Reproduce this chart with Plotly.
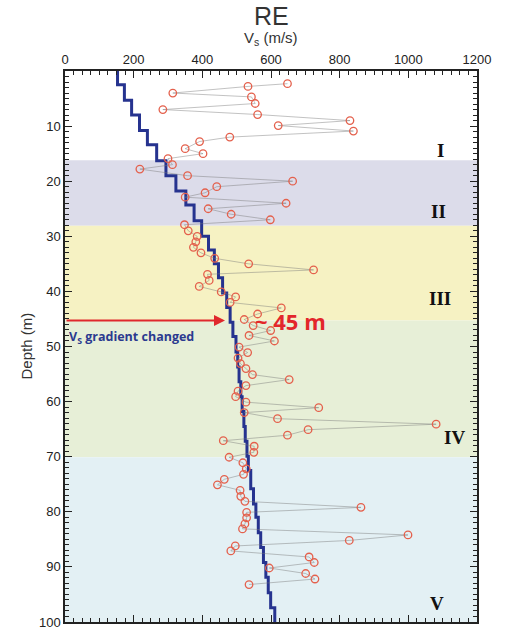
import plotly.graph_objects as go

# ---- data ----
# measured Vs points (depth m, Vs m/s), in depth order
pt_depth = [2.3, 2.8, 4.0, 4.7, 5.9, 7.0, 7.9, 9.0, 9.9, 10.9, 12.0, 12.8, 14.1, 15.0, 15.9, 17.0, 17.8,
            19.0, 20.0, 21.0, 22.1, 22.9, 24.0, 25.0, 26.0, 27.0, 27.9, 29.0, 30.0, 31.0, 32.0, 33.0,
            34.0, 35.0, 36.1, 36.9, 38.0, 39.1, 40.1, 41.0, 42.0, 43.0, 44.1, 45.1, 46.2, 47.1, 48.0,
            49.0, 50.1, 51.1, 52.1, 53.1, 54.0, 55.1, 56.0, 57.1, 58.1, 59.1, 60.1, 61.1, 62.0, 63.1,
            64.1, 65.1, 66.1, 67.1, 68.1, 69.2, 70.1, 71.1, 72.2, 73.2, 74.1, 75.1, 76.1, 77.2, 78.1,
            79.2, 80.1, 81.1, 82.2, 83.1, 84.2, 85.2, 86.2, 87.1, 88.2, 89.2, 90.2, 91.2, 92.2, 93.2]
pt_vs = [648, 533, 314, 543, 554, 285, 561, 830, 621, 840, 480, 392, 350, 402, 300, 313, 218,
         357, 663, 442, 408, 350, 644, 417, 484, 598, 348, 359, 385, 381, 374, 396,
         436, 535, 724, 415, 420, 391, 455, 497, 481, 630, 561, 522, 548, 599, 536,
         610, 507, 532, 504, 511, 527, 546, 653, 527, 504, 497, 527, 739, 522, 619,
         1081, 708, 648, 461, 551, 550, 478, 518, 528, 520, 464, 444, 510, 512, 524,
         862, 529, 529, 524, 517, 999, 828, 496, 483, 711, 726, 595, 701, 728, 536]

# layered model: bottom depth of each layer and its Vs
layer_bottom = [2.5, 5.3, 8.0, 10.8, 13.4, 16.3, 19.0, 21.8, 24.3, 27.2, 30.0, 32.5, 35.0, 37.5,
                40.3, 42.9, 45.6, 48.2, 51.0, 53.7, 56.4, 59.1, 61.8, 64.5, 67.2, 69.9, 72.5,
                75.8, 78.6, 81.0, 83.8, 86.5, 89.2, 91.9, 94.7, 97.4, 100.0]
layer_vs = [153, 173, 194, 217, 240, 267, 294, 323, 352, 376, 398, 418, 435, 447,
            459, 471, 481, 489, 498, 503, 507, 512, 516, 521, 525, 530, 534,
            541, 549, 556, 563, 570, 578, 585, 592, 599, 611]

# zones
zone_top = [0, 16.2, 28.1, 45.3, 70.1]
zone_bottom = [16.2, 28.1, 45.3, 70.1, 100]
zone_names = ["I", "II", "III", "IV", "V"]
zone_colors = ["rgba(255,255,255,0)", "#dcdcea", "#f6f2c3", "#e7efd7", "#e3f0f4"]
zone_label_vs = [1095, 1089, 1092, 1133, 1084]
zone_label_depth = [14.4, 25.5, 41.3, 66.5, 96.7]

x_ticks = [0, 200, 400, 600, 800, 1000, 1200]
y_ticks = [10, 20, 30, 40, 50, 60, 70, 80, 90, 100]

change_depth = 45.3
arrow_tip_vs = 466

# ---- figure ----
fig = go.Figure()

for t, b, c in zip(zone_top, zone_bottom, zone_colors):
    fig.add_shape(type="rect", xref="paper", yref="y", x0=0, x1=1, y0=t, y1=b,
                  fillcolor=c, line_width=0, layer="below")

# step profile
step_x = layer_vs + [layer_vs[-1]]
step_y = [0] + layer_bottom
fig.add_trace(go.Scatter(x=step_x, y=step_y, mode="lines", line_shape="vh",
                         line=dict(color="#26338f", width=3), hoverinfo="skip"))

# measured points
fig.add_trace(go.Scatter(x=pt_vs, y=pt_depth, mode="lines+markers",
                         line=dict(color="rgba(120,120,120,0.45)", width=1),
                         marker=dict(symbol="circle-open", size=7.5, color="#e4604c",
                                     line=dict(width=1.3, color="#e4604c"))))

for name, xv, yv in zip(zone_names, zone_label_vs, zone_label_depth):
    fig.add_annotation(x=xv, y=yv, text="<b>%s</b>" % name, showarrow=False,
                       font=dict(family="Liberation Serif", size=19, color="#111"))

# arrow marking the gradient change
fig.add_annotation(x=arrow_tip_vs, y=change_depth, ax=0, ay=change_depth,
                   axref="x", ayref="y", xref="x", yref="y", text="",
                   showarrow=True, arrowhead=2, arrowsize=1.1, arrowwidth=2,
                   arrowcolor="#e0282c")
fig.add_annotation(x=548, y=change_depth, text="<b>~ 45 m</b>", showarrow=False,
                   xanchor="left", yanchor="middle",
                   font=dict(family="Open Sans", size=22, color="#e3262b"))
fig.add_annotation(x=6, y=48.3, text="<b>V<sub>S</sub> gradient changed</b>", showarrow=False,
                   xanchor="left", yanchor="middle",
                   font=dict(family="Open Sans", size=12.5, color="#2b3a8f"))

# titles
fig.add_annotation(xref="paper", yref="paper", x=0.5, y=1, yshift=55, text="RE",
                   xanchor="center", yanchor="middle",
                   showarrow=False, font=dict(family="Liberation Sans", size=25, color="#333"))
fig.add_annotation(xref="paper", yref="paper", x=0.5, y=1, yshift=33,
                   xanchor="center", yanchor="middle",
                   text="V<sub>s</sub> (m/s)", showarrow=False,
                   font=dict(family="Liberation Sans", size=15, color="#333"))
fig.add_annotation(xref="paper", yref="paper", x=0, xshift=-39, y=0.5, textangle=-90,
                   xanchor="center", yanchor="middle",
                   text="Depth (m)", showarrow=False,
                   font=dict(family="Liberation Sans", size=15, color="#333"))

axis_common = dict(showgrid=False, zeroline=False, showline=True, linecolor="#222",
                   linewidth=1.5, ticks="inside", mirror="allticks", tickcolor="#222",
                   automargin=False,
                   tickfont=dict(family="Liberation Sans", size=13, color="#222"))

fig.update_layout(
    width=506, height=630,
    margin=dict(l=65, r=29, t=71, b=8),
    paper_bgcolor="white", plot_bgcolor="white",
    showlegend=False,
    xaxis=dict(range=[0, 1200], side="top", tickvals=x_ticks, ticklen=7, tickwidth=1.2,
               minor=dict(dtick=25, ticks="inside", ticklen=4, tickcolor="#222", showgrid=False),
               **axis_common),
    yaxis=dict(range=[100, 0], tickvals=y_ticks, ticklen=7, tickwidth=1.2,
               minor=dict(dtick=1, ticks="inside", ticklen=4, tickcolor="#222", showgrid=False),
               **axis_common),
)

fig.write_html("out.html", config={"displayModeBar": False},
               post_script="document.body.style.margin='0';document.body.style.overflow='hidden';")
